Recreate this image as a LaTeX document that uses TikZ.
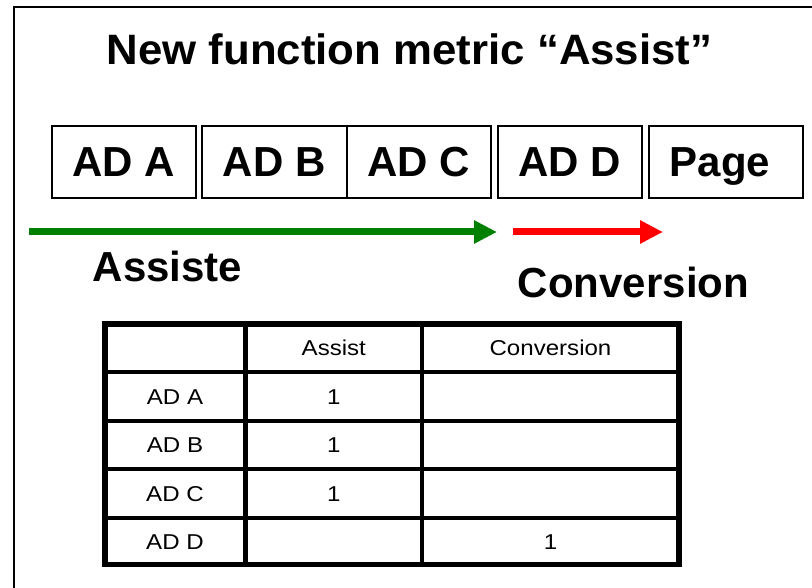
\documentclass[tikz,border=0pt]{standalone}
\usepackage{fontspec}
\setmainfont{Liberation Sans}
\newfontfamily\tablefont[FakeStretch=1.12]{Liberation Sans}
\newfontfamily\titlefont[FakeStretch=1.03]{Liberation Sans}
\usetikzlibrary{arrows.meta}
\definecolor{arrgreen}{RGB}{0,128,0}
\definecolor{arrred}{RGB}{255,0,0}
\tikzset{
  bigtext/.style={font=\fontsize{42}{50}\selectfont\bfseries, inner sep=0pt},
  titletext/.style={font=\titlefont\fontsize{42.5}{50}\selectfont\bfseries, inner sep=0pt},
  adbox/.style={draw, line width=2pt, inner sep=0pt, minimum height=72pt,
     font=\fontsize{42}{50}\selectfont\bfseries, text height=30pt, text depth=0pt},
  celltext/.style={font=\tablefont\fontsize{21.5}{26}\selectfont, inner sep=0pt, text height=15.4pt, text depth=0pt},
  flow/.style={line width=7pt, -{Triangle[length=23pt,width=22pt]}},
  outerb/.style={line width=5.7pt},
  innerb/.style={line width=4.3pt}
}
\begin{document}
\begin{tikzpicture}[x=1pt,y=-1pt]
\useasboundingbox (0,0) rectangle (812,588);
% frame
\draw[line width=2pt] (14,600) -- (14,7) -- (820,7);
% title
\node[titletext, anchor=base] (title) at (409.5,65) {New function metric “Assist”};
% boxes
\node[adbox, minimum width=144pt] (ada) at (124,162) {AD A};
\node[adbox, minimum width=144.7pt] (adb) at (274.3,162) {AD B};
\node[adbox, minimum width=144.3pt] (adc) at (418.9,162) {AD C};
\node[adbox, minimum width=144pt] (add) at (570,162) {AD D};
\node[adbox, minimum width=154pt] (page) at (726,162) {Page\kern12pt};
% arrows
\coordinate (gs) at (29,232);
\coordinate (ge) at (497,232);
\coordinate (rs) at (513,232);
\coordinate (re) at (663,232);
\draw[flow, arrgreen] (gs) -- (ge);
\draw[flow, arrred] (rs) -- (re);
\node[bigtext, anchor=base] (assiste) at (167.5,282) {Assiste};
\node[bigtext, anchor=base] (conv) at (633.5,298) {Conversion};
% table
\draw[innerb] (245.5,324) -- (245.5,564.5);
\draw[innerb] (422,324) -- (422,564.5);
\foreach \y in {372,421,469,518} \draw[innerb] (104.7,\y) -- (679,\y);
\draw[outerb] (104.7,324) rectangle (679,564.5);
\node[celltext] (hassist) at (333.8,348) {Assist};
\node[celltext] (hconv) at (550.5,348) {Conversion};
\node[celltext] (ra) at (175,396.5) {AD A};
\node[celltext] (rb) at (175,445) {AD B};
\node[celltext] (rc) at (175,493.5) {AD C};
\node[celltext] (rd) at (175,541.3) {AD D};
\node[celltext] (va) at (333.8,396.5) {1};
\node[celltext] (vb) at (333.8,445) {1};
\node[celltext] (vc) at (333.8,493.5) {1};
\node[celltext] (vd) at (550.5,541.3) {1};
\end{tikzpicture}
\end{document}
